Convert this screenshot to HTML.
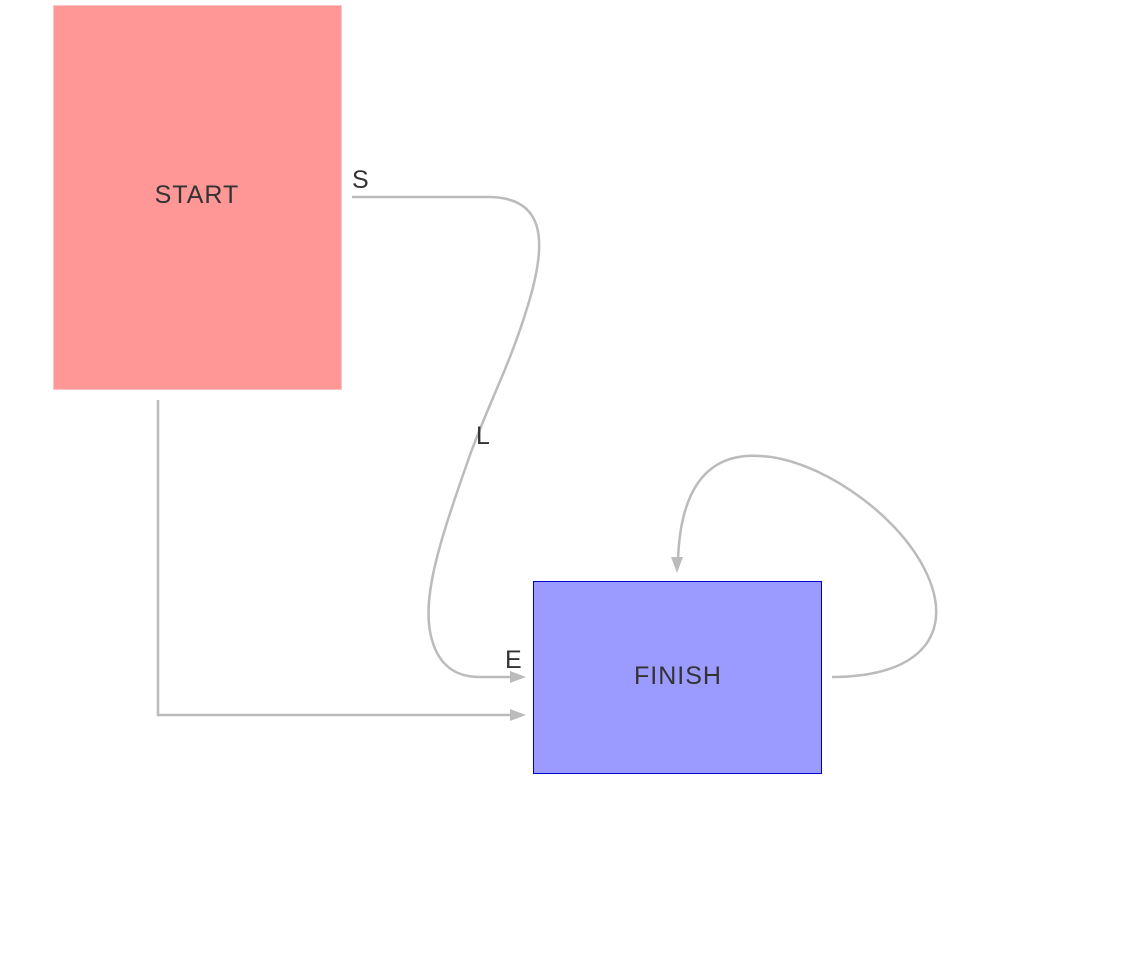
<!DOCTYPE html>
<html><head><meta charset="utf-8"><style>html,body{margin:0;padding:0;background:#fff;}svg{display:block}</style></head>
<body>
<svg width="1148" height="971" viewBox="0 0 1148 971" xmlns="http://www.w3.org/2000/svg" font-family="Liberation Sans, sans-serif">
<rect x="53.5" y="5.5" width="288" height="384" fill="#ff9797" stroke="#ffc4c4" stroke-width="1"/>
<text x="197" y="203" font-size="25" letter-spacing="1" fill="#333" text-anchor="middle">START</text>
<rect x="533.5" y="581.5" width="288" height="192" fill="#9a9aff" stroke="#0000cc" stroke-width="1"/>
<text x="678" y="684" font-size="25" letter-spacing="1" fill="#333" text-anchor="middle">FINISH</text>
<g fill="none" stroke="#bbb" stroke-width="2.5">
<path d="M352 197 L488 197 C545 197 548 240 528 305 C510 365 490 400 470 455 C440 540 420 600 432 640 C440 668 458 677 480 677 L514 677"/>
<path d="M158 400 L158 715 L514 715"/>
<path d="M832 677 C925 677 955 630 925 570 C895 510 815 458 760 456 C700 452 680 500 678 560"/>
</g>
<g fill="#bbb">
<polygon points="526,677 510,671 510,683"/>
<polygon points="526,715 510,709 510,721"/>
<polygon points="677,573 671,557 683,557"/>
</g>
<g font-size="25" fill="#333">
<text x="352" y="188">S</text>
<text x="476" y="444">L</text>
<text x="505" y="668">E</text>
</g>
</svg>
</body></html>
